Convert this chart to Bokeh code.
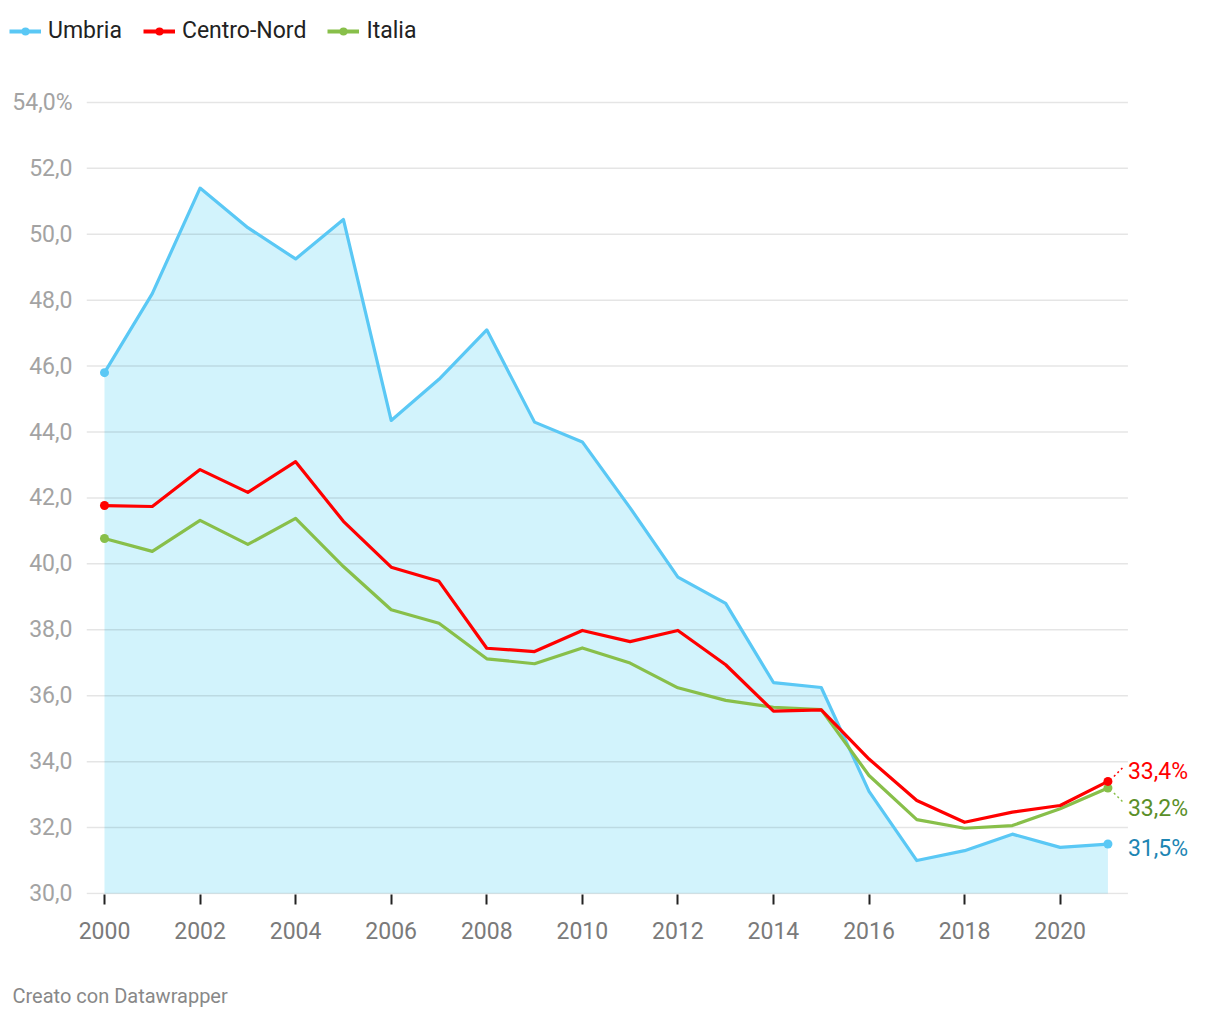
from bokeh.plotting import figure
from bokeh.layouts import column
from bokeh.models import (Range1d, FixedTicker, CustomJSTickFormatter, Legend, LegendItem,
                          Title, ColumnDataSource)
from bokeh.core.properties import value
from bokeh.embed import file_html
from bokeh.resources import INLINE

years = list(range(2000, 2022))
umbria = [45.8, 48.2, 51.4, 50.2, 49.25, 50.45, 44.35, 45.6, 47.1, 44.3, 43.7, 41.7,
          39.6, 38.8, 36.4, 36.25, 33.1, 31.0, 31.3, 31.8, 31.4, 31.5]
centro_nord = [41.77, 41.74, 42.86, 42.17, 43.1, 41.29, 39.9, 39.47, 37.44, 37.34, 37.98, 37.64,
               37.98, 36.94, 35.53, 35.57, 34.08, 32.82, 32.16, 32.47, 32.67, 33.4]
italia = [40.77, 40.38, 41.32, 40.59, 41.38, 39.92, 38.61, 38.2, 37.12, 36.97, 37.45, 36.99,
          36.24, 35.86, 35.65, 35.58, 33.58, 32.24, 31.98, 32.06, 32.57, 33.2]
series_names = ["Umbria", "Centro-Nord", "Italia"]
end_labels = ["31,5%", "33,4%", "33,2%"]
yticks = [30, 32, 34, 36, 38, 40, 42, 44, 46, 48, 50, 52, 54]
xticks = [2000, 2002, 2004, 2006, 2008, 2010, 2012, 2014, 2016, 2018, 2020]

c_umbria = "#5ac8f5"
c_cn = "#ff0000"
c_it = "#88bf4a"
FONT = "Roboto"

PX_X = 47.8   # px per year
PX_Y = 32.96  # px per unit

x0 = 2000 - 18 / PX_X
x1 = 2023.0
y0 = 30 - 1 / PX_Y
y1 = 54.3

FW = int(round((x1 - x0) * PX_X))
FH = int(round((y1 - y0) * PX_Y))
ML, MR = 86, 4
TOTAL_W = ML + FW + MR
LEG_H = 46

# ---------- legend strip ----------
lg = figure(frame_width=TOTAL_W, frame_height=LEG_H, x_range=Range1d(0, 1), y_range=Range1d(0, 1),
            output_backend="svg", toolbar_location=None,
            min_border_left=0, min_border_right=0, min_border_top=0, min_border_bottom=0)
lg.axis.visible = False
lg.grid.visible = False
lg.outline_line_color = None
leg_r = []
for c in [c_umbria, c_cn, c_it]:
    rl = lg.line(x=[-5, -4], y=[-5, -4], line_color=c, line_width=4)
    rs = lg.scatter(x=[-5], y=[-5], size=9, fill_color=c, line_color=None)
    leg_r.append([rl, rs])
legend = Legend(items=[LegendItem(label=n, renderers=r) for n, r in zip(series_names, leg_r)],
                orientation="horizontal", location=(9, 2),
                label_text_font=FONT, label_text_font_size="23px", label_text_color="#222222",
                glyph_width=32, glyph_height=20, label_standoff=7, spacing=21,
                padding=0, margin=0, border_line_color=None, background_fill_alpha=0)
lg.add_layout(legend, "center")

# ---------- main chart ----------
p = figure(frame_width=FW, frame_height=FH,
           x_range=Range1d(x0, x1), y_range=Range1d(y0, y1),
           output_backend="svg", toolbar_location=None,
           min_border_left=ML, min_border_top=46, min_border_bottom=112,
           min_border_right=MR)
p.outline_line_color = None
p.background_fill_color = "white"
p.border_fill_color = "white"
p.xgrid.visible = False
p.ygrid.visible = False

# area
p.varea(x=years, y1=[30] * len(years), y2=umbria, fill_color="#d2f3fc", fill_alpha=1)

# gridlines (stop before label zone)
grid_end = 2021 + 20 / PX_X
p.segment(x0=[x0] * len(yticks), x1=[grid_end] * len(yticks), y0=yticks, y1=yticks,
          line_color="black", line_alpha=0.1, line_width=1.5)

# lines
p.line(years, umbria, line_color=c_umbria, line_width=3.2, line_join="round")
p.line(years, italia, line_color=c_it, line_width=3.2, line_join="round")
p.line(years, centro_nord, line_color=c_cn, line_width=3.2, line_join="round")

p.scatter([years[0], years[-1]], [umbria[0], umbria[-1]], size=9, fill_color=c_umbria, line_color=None)
p.scatter([years[0], years[-1]], [italia[0], italia[-1]], size=9, fill_color=c_it, line_color=None)
p.scatter([years[0], years[-1]], [centro_nord[0], centro_nord[-1]], size=9, fill_color=c_cn, line_color=None)

# dotted connectors
p.segment(x0=[2021 + 6 / PX_X], y0=[centro_nord[-1] + 5 / PX_Y],
          x1=[2021 + 15 / PX_X], y1=[centro_nord[-1] + 14 / PX_Y],
          line_color=c_cn, line_width=1.5, line_dash="2 3")
p.segment(x0=[2021 + 6 / PX_X], y0=[italia[-1] - 5 / PX_Y],
          x1=[2021 + 15 / PX_X], y1=[italia[-1] - 14 / PX_Y],
          line_color=c_it, line_width=1.5, line_dash="2 3")

# end labels
lab_src = ColumnDataSource(dict(
    x=[2021, 2021, 2021],
    y=[umbria[-1], centro_nord[-1], italia[-1]],
    t=end_labels,
    c=["#1d85b3", "#ff0000", "#5a8f29"],
    yo=[4, -10, 20],
))
p.text(x="x", y="y", text="t", text_color="c", y_offset="yo", x_offset=20, source=lab_src,
       text_font=value(FONT), text_font_size="23px", text_baseline="middle", text_align="left")

# axes
p.yaxis.ticker = FixedTicker(ticks=yticks)
p.yaxis.formatter = CustomJSTickFormatter(code="""
    const s = tick.toFixed(1).replace('.', ',');
    return tick == 54 ? s + '%' : s;
""")
p.yaxis.axis_line_color = None
p.yaxis.major_tick_line_color = None
p.yaxis.minor_tick_line_color = None
p.yaxis.major_tick_out = 0
p.yaxis.major_label_standoff = 14
p.yaxis.major_label_text_font = FONT
p.yaxis.major_label_text_font_size = "23px"
p.yaxis.major_label_text_color = "#a3a3a3"

p.xaxis.ticker = FixedTicker(ticks=xticks)
p.xaxis.axis_line_color = None
p.xaxis.minor_tick_line_color = None
p.xaxis.major_tick_line_color = "#222222"
p.xaxis.major_tick_line_width = 2
p.xaxis.major_tick_out = 10
p.xaxis.major_tick_in = 0
p.xaxis.major_label_standoff = 17
p.xaxis.major_label_text_font = FONT
p.xaxis.major_label_text_font_size = "23px"
p.xaxis.major_label_text_color = "#7a7a7a"

footer = Title(text="Creato con Datawrapper", align="left", offset=-74,
               text_font=FONT, text_font_size="20px", text_font_style="normal",
               text_color="#888888", standoff=80)
p.add_layout(footer, "below")

layout = column(lg, p, spacing=0)
open("out.html", "w").write(file_html(layout, INLINE))
